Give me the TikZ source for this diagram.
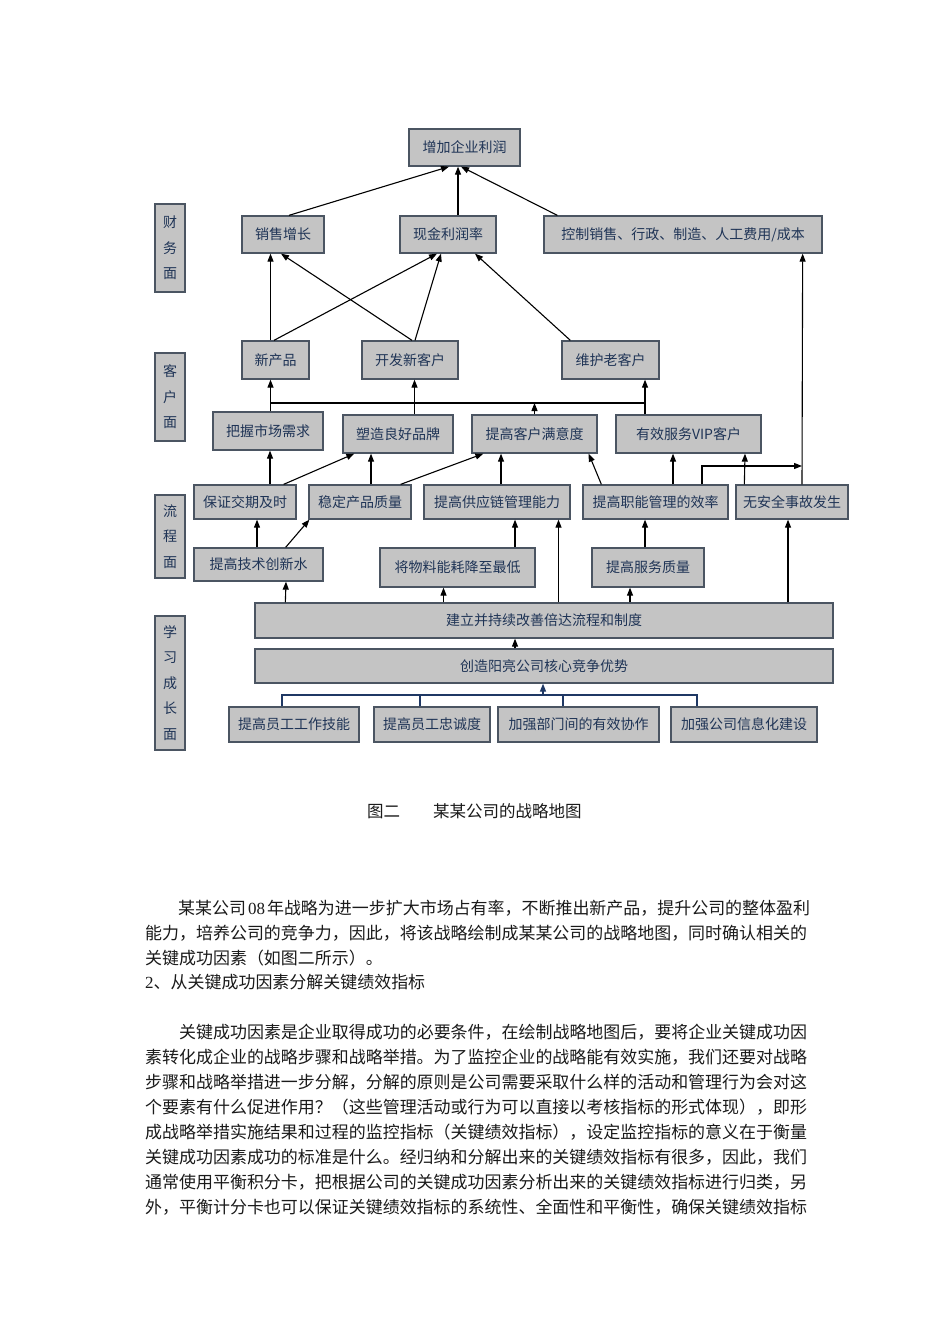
\documentclass[tikz,border=0pt]{standalone}
\usepackage{fontspec}
\setmainfont{Liberation Serif}
\newfontfamily\cjk{Noto Sans CJK SC}
\usetikzlibrary{arrows.meta,calc}
\definecolor{boxfill}{HTML}{C4C4C4}
\definecolor{boxborder}{HTML}{4B5562}
\definecolor{boxtext}{HTML}{1F3456}
\definecolor{navyline}{HTML}{1F3864}
\definecolor{bodytext}{HTML}{1A1A1A}
\tikzset{
  box/.style={draw=boxborder, fill=boxfill, line width=1.3pt, inner sep=0pt, text=boxtext,
    font=\cjk\fontsize{14}{16}\selectfont},
  labelbox/.style={box, align=center, font=\cjk\fontsize{14}{25.5}\selectfont},
  arr/.style={draw=black, line width=1.1pt, -{Triangle[length=8pt,width=6pt]}},
  plain/.style={draw=black, line width=1.1pt},
  navy/.style={draw=navyline, line width=1.3pt},
  navyarr/.style={draw=navyline, line width=1.3pt, -{Triangle[length=8pt,width=6pt]}},
  bodyline/.style={anchor=west, inner sep=0pt, text=bodytext, font=\cjk\fontsize{16.97}{20}\selectfont},
}
\begin{document}
\begin{tikzpicture}[x=1pt,y=-1pt]
\path[use as bounding box, fill=white] (0,0) rectangle (950,1344);

% perspective labels
\node[labelbox, minimum width=30pt, minimum height=88pt] (lab1) at (170,248) {财\\务\\面};
\node[labelbox, minimum width=30pt, minimum height=88pt] (lab2) at (170,397) {客\\户\\面};
\node[labelbox, minimum width=30pt, minimum height=83pt] (lab3) at (170,536.5) {流\\程\\面};
\node[labelbox, minimum width=30pt, minimum height=134pt] (lab4) at (170,683) {学\\习\\成\\长\\面};

% financial
\node[box, minimum width=111pt, minimum height=37pt] (top) at (464.5,147.5) {增加企业利润};
\node[box, minimum width=82pt, minimum height=37pt] (fin1) at (283,234.5) {销售增长};
\node[box, minimum width=96pt, minimum height=37pt] (fin2) at (448,234.5) {现金利润率};
\node[box, minimum width=278pt, minimum height=37pt] (fin3) at (683,234.5) {控制销售、行政、制造、人工费用/成本};

% customer
\node[box, minimum width=67pt, minimum height=38pt] (c1) at (275.5,360) {新产品};
\node[box, minimum width=96pt, minimum height=38pt] (c2) at (410,360) {开发新客户};
\node[box, minimum width=97pt, minimum height=38pt] (c3) at (610.5,360) {维护老客户};
\node[box, minimum width=110pt, minimum height=38pt] (d1) at (268,431) {把握市场需求};
\node[box, minimum width=110pt, minimum height=38pt] (d2) at (398,434) {塑造良好品牌};
\node[box, minimum width=125pt, minimum height=38pt] (d3) at (534.5,434) {提高客户满意度};
\node[box, minimum width=145pt, minimum height=38pt] (d4) at (688.5,434) {有效服务VIP客户};

% process
\node[box, minimum width=102pt, minimum height=34pt] (p1) at (245,502) {保证交期及时};
\node[box, minimum width=102pt, minimum height=34pt] (p2) at (360,502) {稳定产品质量};
\node[box, minimum width=146pt, minimum height=34pt] (p3) at (497,502) {提高供应链管理能力};
\node[box, minimum width=145pt, minimum height=34pt] (p4) at (655.5,502) {提高职能管理的效率};
\node[box, minimum width=112pt, minimum height=34pt] (p5) at (792,502) {无安全事故发生};
\node[box, minimum width=129pt, minimum height=33pt] (q1) at (258.5,564.5) {提高技术创新水};
\node[box, minimum width=155pt, minimum height=39pt] (q2) at (457.5,567.5) {将物料能耗降至最低};
\node[box, minimum width=112pt, minimum height=39pt] (q3) at (648,567.5) {提高服务质量};

% learning
\node[box, minimum width=578pt, minimum height=35pt] (L1) at (544,620.5) {建立并持续改善倍达流程和制度};
\node[box, minimum width=578pt, minimum height=34pt] (L2) at (544,666) {创造阳亮公司核心竞争优势};
\node[box, minimum width=130pt, minimum height=35pt] (e1) at (294,724.5) {提高员工工作技能};
\node[box, minimum width=116pt, minimum height=35pt] (e2) at (432,724.5) {提高员工忠诚度};
\node[box, minimum width=161pt, minimum height=35pt] (e3) at (578.5,724.5) {加强部门间的有效协作};
\node[box, minimum width=146pt, minimum height=35pt] (e4) at (744,724.5) {加强公司信息化建设};

% helper coordinates
\coordinate (hL) at (270.5,403);
\coordinate (hR) at (645,403);
\coordinate (j) at (802,466);
\coordinate (bL) at (282,695);
\coordinate (bR) at (697,695);

% financial connectors
\draw[arr] ([xshift=6pt]fin1.north) -- ([xshift=-15.5pt]top.south);
\draw[arr] ([xshift=10pt]fin2.north) -- ([xshift=-6.5pt]top.south);
\draw[arr] ([xshift=14pt]fin3.north west) -- ([xshift=-3.5pt]top.south);
\draw[arr] ([xshift=-5pt]c1.north) -- ([xshift=-12.5pt]fin1.south);
\draw[arr] ([xshift=2pt]c2.north) -- ([xshift=-2pt]fin1.south);
\draw[arr] ([xshift=-1.5pt]c1.north) -- ([xshift=-11pt]fin2.south);
\draw[arr] ([xshift=5pt]c2.north) -- ([xshift=-7pt]fin2.south);
\draw[arr] ([xshift=9pt]c3.north west) -- ([xshift=27pt]fin2.south);
\draw[arr] ([xshift=10pt]p5.north) -- ([xshift=-20pt]fin3.south east);

% customer connectors
\draw[plain] (hL) -- (hR);
\draw[arr] ([xshift=2.5pt]d1.north) -- ([xshift=-5pt]c1.south);
\draw[arr] ([xshift=16.5pt]d2.north) -- ([xshift=4.5pt]c2.south);
\draw[arr] (d3.north) -- (d3.north |- hL);
\draw[arr] ([xshift=-43.5pt]d4.north) -- ([xshift=34.5pt]c3.south);

% process connectors
\draw[arr] ([xshift=25pt]p1.north) -- ([xshift=2pt]d1.south);
\draw[arr] ([xshift=-13pt]p1.north east) -- ([xshift=12pt]d2.south west);
\draw[arr] ([xshift=11pt]p2.north) -- ([xshift=-27pt]d2.south);
\draw[arr] ([xshift=-11pt]p2.north east) -- ([xshift=12pt]d3.south west);
\draw[arr] ([xshift=4pt]p3.north) -- ([xshift=-33.5pt]d3.south);
\draw[arr] ([xshift=19pt]p4.north west) -- ([xshift=-9pt]d3.south east);
\draw[arr] ([xshift=17.5pt]p4.north) -- ([xshift=-15.5pt]d4.south);
\draw[arr] ([xshift=46.5pt]p4.north) |- (j);
\draw[arr] ([xshift=9pt]p5.north west) -- ([xshift=56.5pt]d4.south);
\draw[arr] ([xshift=-1.5pt]q1.north) -- ([xshift=12pt]p1.south);
\draw[arr] ([xshift=-38pt]q1.north east) -- ([xshift=1pt]p2.south west);
\draw[arr] ([xshift=57.5pt]q2.north) -- ([xshift=18pt]p3.south);
\draw[arr] ([xshift=-3pt]q3.north) -- ([xshift=-10.5pt]p4.south);

% learning connectors
\draw[arr] ([xshift=14.5pt]L1.north) -- ([xshift=61.5pt]p3.south);
\draw[arr] ([xshift=31pt]L1.north west) -- ([xshift=27.5pt]q1.south);
\draw[arr] ([xshift=-100.5pt]L1.north) -- ([xshift=-14pt]q2.south);
\draw[arr] ([xshift=86pt]L1.north) -- ([xshift=-18pt]q3.south);
\draw[arr] ([xshift=244pt]L1.north) -- ([xshift=-4pt]p5.south);
\draw[arr] ([xshift=-29pt]L2.north) -- ([xshift=-29pt]L1.south);
\draw[navy] ([xshift=-12pt]e1.north) -- (bL) -- (bR) -- ([xshift=-47pt]e4.north);
\draw[navy] ([xshift=-12pt]e2.north) -- ([xshift=-12pt]e2.north |- bL);
\draw[navy] ([xshift=-15.5pt]e3.north) -- ([xshift=-15.5pt]e3.north |- bL);
\draw[navyarr] ([xshift=-1pt]L2.south |- bL) -- ([xshift=-1pt]L2.south);

% caption
\node[anchor=west, inner sep=0pt, text=bodytext, font=\cjk\fontsize{16.5}{20}\selectfont] (cap) at (367,811) {图二\hspace{33pt}某某公司的战略地图};

% body text
\node[bodyline] (t1) at (178,908) {某某公司\hspace{2pt}{\rmfamily 08}\hspace{2pt}年战略为进一步扩大市场占有率，不断推出新产品，提升公司的整体盈利};
\node[bodyline] (t2) at (145,933) {能力，培养公司的竞争力，因此，将该战略绘制成某某公司的战略地图，同时确认相关的};
\node[bodyline] (t3) at (145,958) {关键成功因素（如图二所示）。};
\node[bodyline] (t4) at (145,982) {{\rmfamily 2}、从关键成功因素分解关键绩效指标};
\node[bodyline] (t5) at (179,1032) {关键成功因素是企业取得成功的必要条件，在绘制战略地图后，要将企业关键成功因};
\node[bodyline] (t6) at (145,1057) {素转化成企业的战略步骤和战略举措。为了监控企业的战略能有效实施，我们还要对战略};
\node[bodyline] (t7) at (145,1082) {步骤和战略举措进一步分解，分解的原则是公司需要采取什么样的活动和管理行为会对这};
\node[bodyline] (t8) at (145,1107) {个要素有什么促进作用？（这些管理活动或行为可以直接以考核指标的形式体现），即形};
\node[bodyline] (t9) at (145,1132) {成战略举措实施结果和过程的监控指标（关键绩效指标），设定监控指标的意义在于衡量};
\node[bodyline] (t10) at (145,1157) {关键成功因素成功的标准是什么。经归纳和分解出来的关键绩效指标有很多，因此，我们};
\node[bodyline] (t11) at (145,1182) {通常使用平衡积分卡，把根据公司的关键成功因素分析出来的关键绩效指标进行归类，另};
\node[bodyline] (t12) at (145,1207) {外，平衡计分卡也可以保证关键绩效指标的系统性、全面性和平衡性，确保关键绩效指标};
\end{tikzpicture}
\end{document}
